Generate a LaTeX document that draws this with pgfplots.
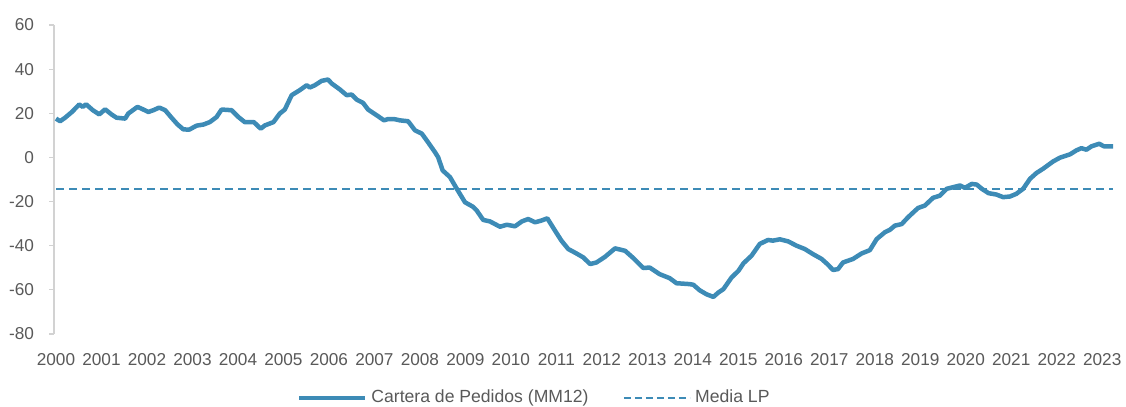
\documentclass[border=0pt]{standalone}
\usepackage{pgfplots}
\pgfplotsset{compat=1.18}
\usepackage{fontspec}
\setmainfont{Liberation Sans}
\definecolor{lineblue}{RGB}{61,139,182}
\definecolor{txtgray}{RGB}{89,89,89}
\definecolor{axgray}{RGB}{210,210,210}
\begin{document}
\begin{tikzpicture}
\path[use as bounding box] (0,0) rectangle (563pt,203.5pt);
\begin{axis}[
  at={(27pt,36.5pt)}, anchor=south west,
  scale only axis, width=529.5pt, height=154.5pt,
  xmin=1999.956, xmax=2023.235,
  ymin=-80, ymax=60,
  axis x line=bottom, axis y line=left,
  x axis line style={draw=none},
  y axis line style={draw=axgray, line width=0.6pt, -},
  xtick={2000,...,2023},
  xticklabels={2000,2001,2002,2003,2004,2005,2006,2007,2008,2009,2010,2011,2012,2013,2014,2015,2016,2017,2018,2019,2020,2021,2022,2023},
  ytick={-80,-60,...,60},
  xtick style={draw=none},
  ytick style={draw=axgray, line width=0.6pt},
  tick align=outside, major tick length=2.5pt,
  ticklabel style={font=\fontsize{8.6}{10}\selectfont, text=txtgray},
  /pgf/number format/assume math mode=true,
  xticklabel style={yshift=-3.6pt},
  yticklabel style={xshift=-4pt},
  legend columns=2,
  legend style={at={(axis description cs:0.2290,-0.207)}, anchor=west, draw=none, fill=none,
    font=\fontsize{8.8}{10}\selectfont, text=txtgray, inner sep=0pt,
    /tikz/every even column/.append style={column sep=15pt}},
  legend cell align=left,
]
\addplot[lineblue, line width=2.25pt, line join=round,
  legend image code/.code={\draw[lineblue, line width=2.25pt] (0pt,0pt) -- (33pt,0pt);}]
coordinates {
(2000.00,17.6)(2000.09,16.4)(2000.20,18.0)(2000.35,20.6)(2000.51,24.0)(2000.59,22.9)
(2000.66,24.1)(2000.81,21.4)(2000.95,19.5)(2001.08,21.8)(2001.22,19.5)(2001.33,18.0)
(2001.52,17.6)(2001.59,19.9)(2001.79,22.9)(2001.88,22.1)(2002.03,20.6)(2002.14,21.4)
(2002.27,22.6)(2002.40,21.4)(2002.54,18.0)(2002.67,15.0)(2002.80,12.7)(2002.93,12.6)
(2003.09,14.4)(2003.24,14.9)(2003.38,16.0)(2003.53,18.3)(2003.64,21.7)(2003.86,21.4)
(2004.01,18.3)(2004.15,16.0)(2004.35,16.0)(2004.50,13.0)(2004.59,14.5)(2004.78,16.0)
(2004.92,19.9)(2005.03,21.7)(2005.18,28.2)(2005.36,30.5)(2005.51,32.7)(2005.58,31.7)
(2005.69,32.7)(2005.84,34.7)(2005.98,35.3)(2006.06,33.5)(2006.24,30.8)(2006.39,28.2)
(2006.50,28.5)(2006.61,26.2)(2006.75,24.7)(2006.86,21.7)(2007.05,19.1)(2007.21,16.8)
(2007.30,17.4)(2007.45,17.3)(2007.56,16.8)(2007.74,16.4)(2007.89,12.3)(2008.04,10.8)
(2008.15,7.7)(2008.33,2.4)(2008.40,0.1)(2008.50,-5.9)(2008.66,-8.9)(2008.81,-14.2)
(2008.99,-20.3)(2009.17,-22.4)(2009.25,-24.1)(2009.39,-28.3)(2009.54,-29.0)(2009.76,-31.4)
(2009.91,-30.5)(2010.09,-31.2)(2010.24,-29.0)(2010.38,-27.9)(2010.53,-29.4)(2010.67,-28.6)
(2010.80,-27.6)(2010.97,-33.2)(2011.11,-37.7)(2011.26,-41.5)(2011.44,-43.5)(2011.59,-45.3)
(2011.74,-48.3)(2011.88,-47.6)(2012.07,-45.0)(2012.29,-41.2)(2012.51,-42.3)(2012.69,-45.6)
(2012.91,-50.1)(2013.05,-49.9)(2013.27,-52.9)(2013.49,-54.7)(2013.64,-57.0)(2013.79,-57.2)
(2013.93,-57.4)(2014.01,-57.7)(2014.15,-60.2)(2014.30,-62.0)(2014.45,-63.2)(2014.56,-61.2)
(2014.67,-59.7)(2014.85,-54.4)(2015.00,-51.4)(2015.11,-48.0)(2015.29,-44.5)(2015.47,-39.2)
(2015.65,-37.4)(2015.76,-37.7)(2015.91,-37.1)(2016.09,-38.0)(2016.28,-40.0)(2016.46,-41.5)
(2016.64,-43.8)(2016.83,-46.0)(2016.97,-48.6)(2017.08,-51.0)(2017.19,-50.6)(2017.30,-47.6)
(2017.52,-46.0)(2017.71,-43.5)(2017.89,-42.0)(2018.04,-37.0)(2018.22,-33.9)(2018.33,-32.8)
(2018.44,-30.9)(2018.59,-30.2)(2018.73,-27.1)(2018.95,-22.9)(2019.10,-21.8)(2019.28,-18.3)
(2019.43,-17.3)(2019.58,-14.2)(2019.72,-13.5)(2019.87,-12.7)(2019.98,-13.8)(2020.13,-12.0)
(2020.24,-12.3)(2020.35,-14.2)(2020.50,-16.2)(2020.67,-16.8)(2020.82,-18.0)(2020.97,-17.7)
(2021.11,-16.5)(2021.26,-14.2)(2021.41,-9.7)(2021.55,-7.1)(2021.70,-5.1)(2021.92,-1.8)
(2022.07,-0.1)(2022.29,1.4)(2022.43,3.2)(2022.54,4.2)(2022.65,3.5)(2022.76,5.0)
(2022.93,6.2)(2023.04,5.0)(2023.24,5.0)
};
\addlegendentry{Cartera de Pedidos (MM12)}
\addplot[lineblue, line width=1.3pt, dash pattern=on 4pt off 2.5pt,
  legend image code/.code={\draw[lineblue, line width=1.3pt, dash pattern=on 3.5pt off 2pt] (0pt,0pt) -- (33pt,0pt);}]
coordinates {(2000.00,-14.3)(2023.24,-14.3)};
\addlegendentry{Media LP}
\end{axis}
\end{tikzpicture}
\end{document}
